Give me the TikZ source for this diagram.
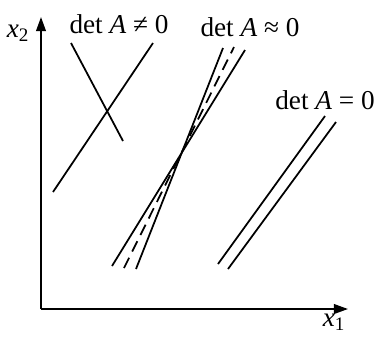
\documentclass[tikz,border=0pt]{standalone}
\usepackage{fontspec}
\setmainfont{Liberation Serif}
\usetikzlibrary{arrows.meta}

\begin{document}
\begin{tikzpicture}[
        x=0.02cm, y=-0.02cm,
        axis/.style={line width=1pt, -{Triangle[length=8pt, width=5.5pt]}},
        sysline/.style={line width=1pt},
        nearline/.style={sysline, dash pattern=on 6.5pt off 4pt},
        lbl/.style={font=\fontsize{15.5}{18}\selectfont, inner sep=0pt}
      ]
        \useasboundingbox (0,0) rectangle (377,336);

        % Axes
        \coordinate (origin) at (41,309);
        \coordinate (xend) at (348,309);
        \coordinate (yend) at (41,17);
        \draw[axis] (origin) -- (xend);
        \draw[axis] (origin) -- (yend);
        \node[lbl] (xlabel) at (334,322) {\textit{x}\textsubscript{1}};
        \node[lbl] (ylabel) at (18,33) {\textit{x}\textsubscript{2}};

        % Labels
        \node[lbl] (nonsing) at (119,24) {det \textit{A} ≠ 0};
        \node[lbl] (nearsing) at (250,27) {det \textit{A} ≈ 0};
        \node[lbl] (sing) at (325,100) {det \textit{A} = 0};

        % det A != 0
        \coordinate (a1) at (71,43);
        \coordinate (a2) at (123,141);
        \coordinate (b1) at (153,43);
        \coordinate (b2) at (53,192);
        \draw[sysline] (a1) -- (a2);
        \draw[sysline] (b1) -- (b2);

        % det A ~ 0
        \coordinate (c1) at (112,266);
        \coordinate (c2) at (245,50);
        \coordinate (d1) at (136,269);
        \coordinate (d2) at (223,48);
        \coordinate (e1) at (124,268);
        \coordinate (e2) at (234,47);
        \draw[sysline] (c1) -- (c2);
        \draw[sysline] (d1) -- (d2);
        \draw[nearline] (e1) -- (e2);

        % det A = 0
        \coordinate (f1) at (218,264);
        \coordinate (f2) at (325,116);
        \coordinate (g1) at (228,269);
        \coordinate (g2) at (336,122);
        \draw[sysline] (f1) -- (f2);
        \draw[sysline] (g1) -- (g2);
      \end{tikzpicture}
\end{document}
